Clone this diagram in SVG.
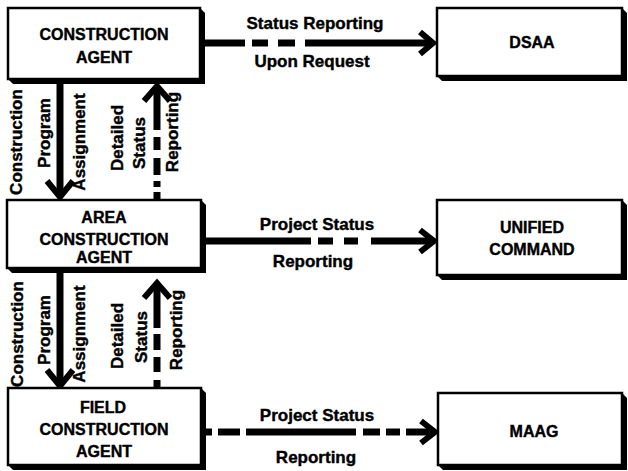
<svg xmlns="http://www.w3.org/2000/svg" width="628" height="471" viewBox="0 0 628 471">
  <style>
    .shadow { fill: #000; }
    .box { fill: #fff; stroke: #000; stroke-width: 2.5; }
    .btxt { font-family: "Liberation Sans", Arial, sans-serif; font-weight: bold; font-size: 16px; fill: #000; stroke: #000; stroke-width: 0.4; text-anchor: middle; }
    .lbl { font-family: "Liberation Sans", Arial, sans-serif; font-weight: bold; font-size: 17px; fill: #000; stroke: #000; stroke-width: 0.4; text-anchor: middle; }
    .shaft { fill: none; stroke: #000; stroke-width: 7; }
    .head { fill: none; stroke: #000; stroke-width: 6; stroke-linejoin: miter; }
  </style>

  <rect width="628" height="471" fill="#fff"/>

  <!-- connectors -->
  <g id="connectors">
    <!-- Construction Agent -> DSAA -->
    <path class="shaft" d="M205,43 H431" stroke-dasharray="40 7 16 10 17 10 200"/>
    <polyline class="head" points="420,32 433,43 420,54"/>
    <!-- Area -> Unified Command -->
    <path class="shaft" d="M206,241 H431" stroke-dasharray="105 7 15 11 14 13 200"/>
    <polyline class="head" points="420,230 434,241 420,252"/>
    <!-- Field -> MAAG -->
    <path class="shaft" d="M205,432 H431" stroke-dasharray="7 6 22 6 110 7 17 6 14 6 200"/>
    <polyline class="head" points="421,421 435,432 421,443"/>

    <!-- Construction Agent -> Area (program assignment) -->
    <path class="shaft" d="M60,84 V194"/>
    <polyline class="head" points="47,181 60,197 73,181"/>
    <!-- Area -> Construction Agent (status reporting) -->
    <path class="shaft" d="M157,200 V89" stroke-dasharray="8 5 6 6 17 8 13 7 200"/>
    <polyline class="head" points="144,101 157,86 170,101"/>

    <!-- Area -> Field (program assignment) -->
    <path class="shaft" d="M60,273 V383"/>
    <polyline class="head" points="47,370 60,386 73,370"/>
    <!-- Field -> Area (status reporting) -->
    <path class="shaft" d="M157,388 V286" stroke-dasharray="8 8 15 7 16 6 200"/>
    <polyline class="head" points="144,298 157,283 170,298"/>
  </g>

  <!-- connector labels -->
  <g id="labels">
    <text class="lbl" x="315" y="29">Status Reporting</text>
    <text class="lbl" x="312" y="67">Upon Request</text>
    <text class="lbl" x="317" y="230">Project Status</text>
    <text class="lbl" x="313" y="267">Reporting</text>
    <text class="lbl" x="317" y="421">Project Status</text>
    <text class="lbl" x="316" y="463">Reporting</text>

    <text class="lbl" transform="translate(22,142) rotate(-90)">Construction</text>
    <text class="lbl" transform="translate(50,133) rotate(-90)">Program</text>
    <text class="lbl" transform="translate(85,142) rotate(-90)">Assignment</text>
    <text class="lbl" transform="translate(123,138) rotate(-90)">Detailed</text>
    <text class="lbl" transform="translate(145,143) rotate(-90)">Status</text>
    <text class="lbl" transform="translate(178,132) rotate(-90)">Reporting</text>

    <text class="lbl" transform="translate(23,334) rotate(-90)">Construction</text>
    <text class="lbl" transform="translate(50,330) rotate(-90)">Program</text>
    <text class="lbl" transform="translate(85,334) rotate(-90)">Assignment</text>
    <text class="lbl" transform="translate(123,336) rotate(-90)">Detailed</text>
    <text class="lbl" transform="translate(147,337) rotate(-90)">Status</text>
    <text class="lbl" transform="translate(182,330) rotate(-90)">Reporting</text>
  </g>

  <!-- nodes -->
  <g id="construction-agent">
    <polygon class="shadow" points="200,8 205,13 205,84 13,84 8,79"/>
    <rect class="box" x="8" y="8" width="192" height="71"/>
    <text class="btxt" x="104" y="40">CONSTRUCTION</text>
    <text class="btxt" x="104" y="63">AGENT</text>
  </g>

  <g id="dsaa">
    <polygon class="shadow" points="622,8 627,13 627,81 442,81 437,76"/>
    <rect class="box" x="437" y="8" width="185" height="68"/>
    <text class="btxt" x="532" y="48">DSAA</text>
  </g>

  <g id="area-construction-agent">
    <polygon class="shadow" points="201,200 206,205 206,273 12,273 7,268"/>
    <rect class="box" x="7" y="200" width="194" height="68"/>
    <text class="btxt" x="104" y="223">AREA</text>
    <text class="btxt" x="104" y="245">CONSTRUCTION</text>
    <text class="btxt" x="104" y="263">AGENT</text>
  </g>

  <g id="unified-command">
    <polygon class="shadow" points="622,200 627,205 627,280 442,280 437,275"/>
    <rect class="box" x="437" y="200" width="185" height="75"/>
    <text class="btxt" x="532" y="233">UNIFIED</text>
    <text class="btxt" x="532" y="255">COMMAND</text>
  </g>

  <g id="field-construction-agent">
    <polygon class="shadow" points="201,388 206,393 206,470 13,470 8,465"/>
    <rect class="box" x="8" y="388" width="193" height="77"/>
    <text class="btxt" x="103" y="413">FIELD</text>
    <text class="btxt" x="104" y="435">CONSTRUCTION</text>
    <text class="btxt" x="104" y="457">AGENT</text>
  </g>

  <g id="maag">
    <polygon class="shadow" points="622,393 627,398 627,470 443,470 438,465"/>
    <rect class="box" x="438" y="393" width="184" height="72"/>
    <text class="btxt" x="534" y="437">MAAG</text>
  </g>
</svg>
